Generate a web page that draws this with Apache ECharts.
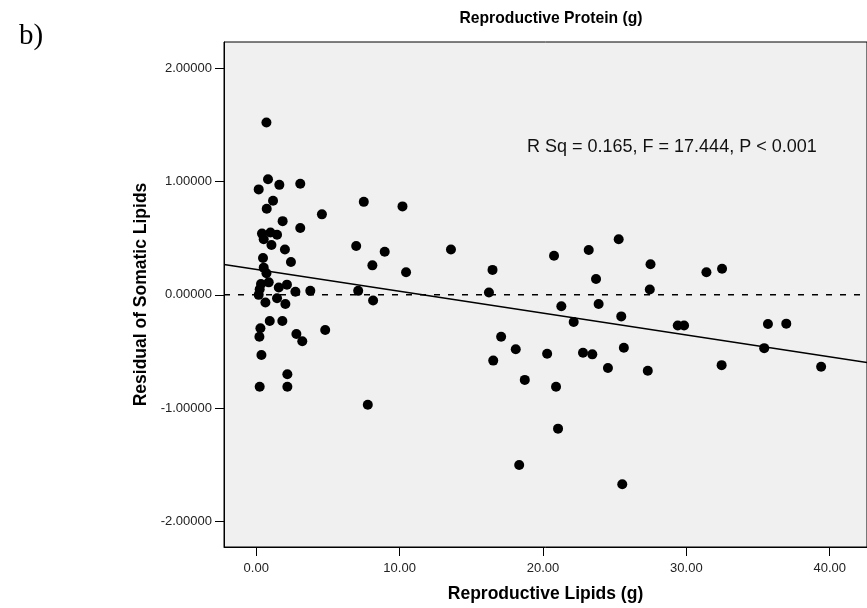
<!DOCTYPE html>
<html>
<head>
<meta charset="utf-8">
<script src="https://cdn.jsdelivr.net/npm/echarts@6/dist/echarts.min.js"></script>
<style>html,body{margin:0;padding:0;background:#fff;}#c{width:867px;height:608px;}</style>
</head>
<body>
<div id="c"></div>
<script>
// Reproductive lipids (g) vs residual of somatic lipids
const lipids = [0.71,0.82,0.17,1.61,3.07,1.17,0.73,7.5,10.2,4.58,1.84,3.07,0.40,0.99,1.45,0.52,1.06,6.97,2.0,8.96,8.1,0.47,2.42,0.52,0.71,10.45,0.87,0.33,0.24,0.17,1.57,2.14,2.73,3.77,7.11,0.64,1.45,2.03,8.15,0.94,1.82,0.29,0.22,2.8,3.21,4.81,0.36,2.17,0.24,2.17,7.78,
  13.58,16.48,16.23,20.77,23.19,25.28,23.7,21.28,23.88,22.14,25.46,17.08,18.1,16.53,20.29,22.79,23.44,25.64,24.53,18.73,20.91,21.05,18.34,25.53,27.5,27.45,31.4,32.49,29.4,29.84,27.31,32.46,35.69,36.97,35.43,39.4];
const residuals = [1.52,1.02,0.93,0.97,0.98,0.83,0.76,0.82,0.78,0.71,0.65,0.59,0.54,0.55,0.53,0.49,0.44,0.43,0.40,0.38,0.26,0.325,0.29,0.24,0.19,0.20,0.11,0.095,0.05,0.0,0.065,0.09,0.027,0.035,0.035,-0.068,-0.03,-0.08,-0.05,-0.23,-0.23,-0.295,-0.37,-0.345,-0.41,-0.31,-0.53,-0.70,-0.81,-0.81,-0.97,
  0.40,0.22,0.02,0.345,0.395,0.49,0.14,-0.10,-0.08,-0.24,-0.19,-0.37,-0.48,-0.58,-0.52,-0.51,-0.525,-0.466,-0.646,-0.75,-0.81,-1.18,-1.50,-1.67,0.27,0.047,0.20,0.23,-0.27,-0.27,-0.67,-0.62,-0.257,-0.254,-0.47,-0.634];
const xTicks = [0, 10, 20, 30, 40];
const yTicks = [-2, -1, 0, 1, 2];
const fitIntercept = 0.225;
const fitSlope = -0.0193;
const statsText = 'R Sq = 0.165, F = 17.444, P < 0.001';

const xMin = -2.25, xMax = 42.6, yMin = -2.224, yMax = 2.23;
const points = lipids.map((v, i) => [v, residuals[i]]);
const fitLine = [[xMin, fitIntercept + fitSlope * xMin], [xMax, fitIntercept + fitSlope * xMax]];
const zeroLine = [[xMin, 0], [xMax, 0]];

const chart = echarts.init(document.getElementById('c'), null, {renderer: 'canvas'});
const labelFont = {fontFamily: 'Liberation Sans, Arial, sans-serif', fontSize: 13, color: '#222'};
const nameFont = {fontFamily: 'Liberation Sans, Arial, sans-serif', fontSize: 17.5, fontWeight: 'bold', color: '#000'};
chart.setOption({
  animation: false,
  backgroundColor: '#fff',
  title: {
    text: 'Reproductive Protein (g)',
    left: 546, top: 6, textAlign: 'center',
    textStyle: {fontFamily: 'Liberation Sans, Arial, sans-serif', fontSize: 15.7, fontWeight: 'bold', color: '#000'}
  },
  graphic: [
    {type: 'text', left: 19, top: 22, style: {text: 'b)', font: '29px "Liberation Serif", "Times New Roman", serif', fill: '#000'}},
    {type: 'text', left: 527, top: 138, style: {text: statsText, font: '18px "Liberation Sans", Arial, sans-serif', fill: '#111'}}
  ],
  grid: {left: 224, top: 42, right: -2, bottom: 61, show: true, backgroundColor: '#f0f0f0', borderColor: '#000', borderWidth: 1},
  xAxis: {
    type: 'value', min: xMin, max: xMax,
    name: 'Reproductive Lipids (g)', nameLocation: 'middle', nameGap: 38,
    nameTextStyle: nameFont,
    axisLine: {show: true, onZero: false, lineStyle: {color: '#000', width: 1}},
    axisTick: {show: true, length: 9, customValues: xTicks, lineStyle: {color: '#000'}},
    axisLabel: {customValues: xTicks, formatter: v => v.toFixed(2), margin: 15, ...labelFont},
    splitLine: {show: false}
  },
  yAxis: {
    type: 'value', min: yMin, max: yMax,
    name: 'Residual of Somatic Lipids', nameLocation: 'middle', nameGap: 73,
    nameTextStyle: nameFont,
    axisLine: {show: true, onZero: false, lineStyle: {color: '#000', width: 1}},
    axisTick: {show: true, length: 9, customValues: yTicks, lineStyle: {color: '#000'}},
    axisLabel: {customValues: yTicks, formatter: v => v.toFixed(5), margin: 12, ...labelFont},
    splitLine: {show: false}
  },
  series: [
    {type: 'line', data: zeroLine, symbol: 'none', z: 2, lineStyle: {color: '#000', width: 1.5, type: [6, 8]}},
    {type: 'line', data: fitLine, symbol: 'none', z: 3, lineStyle: {color: '#000', width: 1.5}},
    {type: 'scatter', data: points, symbol: 'circle', symbolSize: 10, z: 4, itemStyle: {color: '#000', opacity: 1}}
  ]
});
</script>
</body>
</html>
